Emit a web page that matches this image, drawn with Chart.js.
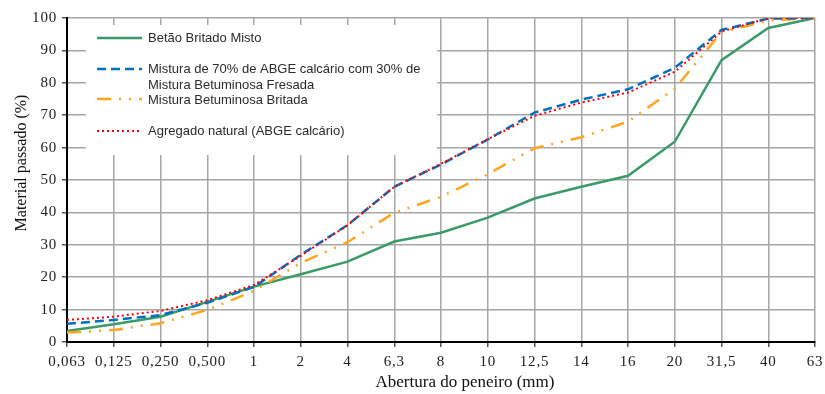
<!DOCTYPE html>
<html>
<head>
<meta charset="utf-8">
<script src="https://cdn.jsdelivr.net/npm/chart.js@4/dist/chart.umd.min.js"></script>
<style>
  html, body { margin: 0; padding: 0; background: #fff; }
  #wrap { width: 825px; height: 394px; }
</style>
</head>
<body>
<div id="wrap"><canvas id="chartPeneiros" width="825" height="394"></canvas></div>
<script>
// Aberturas dos peneiros (mm)
const peneiros = ['0,063', '0,125', '0,250', '0,500', '1', '2', '4', '6,3', '8', '10', '12,5', '14', '16', '20', '31,5', '40', '63'];

// Material passado (%)
const betaoBritadoMisto = [3.4, 5.5, 7.8, 12.4, 17.1, 20.9, 24.8, 31.0, 33.7, 38.4, 44.3, 47.9, 51.3, 61.8, 87.0, 96.9, 100];
const misturaAbgeFresada = [5.6, 6.8, 8.3, 12.1, 17.0, 26.9, 36.1, 47.9, 54.8, 62.5, 70.8, 74.8, 78.0, 84.6, 96.3, 99.8, 100];
const misturaBritada = [2.9, 3.7, 5.8, 9.9, 15.8, 24.4, 30.8, 39.9, 44.8, 51.8, 59.8, 63.2, 68.0, 78.2, 95.6, 99.2, 100];
const agregadoNatural = [6.8, 7.8, 9.6, 12.9, 17.6, 26.6, 36.0, 47.9, 55.0, 62.6, 69.8, 73.9, 77.0, 83.4, 95.8, 100, 100];

const yTicks = [0, 10, 20, 30, 40, 50, 60, 70, 80, 90, 100];

const series = [
  { label: 'Betão Britado Misto', data: betaoBritadoMisto, cor: '#3a9a68', dash: [], largura: 2.5, ordem: 4 },
  { label: ['Mistura de 70% de ABGE calcário com 30% de', 'Mistura Betuminosa Fresada'], data: misturaAbgeFresada, cor: '#0070c0', dash: [9, 5], largura: 2.5, ordem: 2 },
  { label: 'Mistura Betuminosa Britada', data: misturaBritada, cor: '#ffa51f', dash: [14, 8, 2, 8, 2, 8], largura: 2.5, ordem: 3 },
  { label: 'Agregado natural (ABGE calcário)', data: agregadoNatural, cor: '#ff0000', dash: [2, 3], largura: 2, ordem: 1 }
];

// Legenda e títulos dos eixos desenhados à mão
const legendaPlugin = {
  id: 'legendaCaixa',
  beforeDraw(chart) {
    // os números dos eixos vêm um pouco espaçados no original
    chart.ctx.letterSpacing = '0.8px';
  },
  beforeDatasetsDraw(chart) {
    const ctx = chart.ctx;
    ctx.save();
    ctx.letterSpacing = '0px';
    ctx.fillStyle = '#fff';
    ctx.fillRect(86, 25, 351, 130);

    const linhas = [
      { y: 38, textos: [38] },
      { y: 69, textos: [69, 85] },
      { y: 99, textos: [100] },
      { y: 131, textos: [131] }
    ];
    ctx.font = '13px "Liberation Sans", Arial, sans-serif';
    ctx.textBaseline = 'middle';
    ctx.textAlign = 'left';
    series.forEach((s, i) => {
      const l = linhas[i];
      ctx.strokeStyle = s.cor;
      ctx.lineWidth = s.largura;
      ctx.setLineDash(s.dash);
      ctx.beginPath();
      ctx.moveTo(97, l.y);
      ctx.lineTo(142, l.y);
      ctx.stroke();
      ctx.setLineDash([]);
      ctx.fillStyle = '#2b2b2b';
      const textos = Array.isArray(s.label) ? s.label : [s.label];
      textos.forEach((t, k) => ctx.fillText(t, 148, l.textos[k]));
    });

    // títulos
    ctx.fillStyle = '#111';
    ctx.font = '17px "Liberation Serif", "Times New Roman", serif';
    ctx.textAlign = 'center';
    ctx.fillText('Abertura do peneiro (mm)', 465, 383);
    ctx.font = '16px "Liberation Serif", "Times New Roman", serif';
    ctx.translate(22, 163);
    ctx.rotate(-Math.PI / 2);
    ctx.fillText('Material passado (%)', 0, 0);
    ctx.restore();
    ctx.letterSpacing = '0px';
  }
};

new Chart(document.getElementById('chartPeneiros'), {
  type: 'line',
  data: {
    labels: peneiros,
    datasets: series.map(s => ({
      label: Array.isArray(s.label) ? s.label.join(' ') : s.label,
      data: s.data,
      borderColor: s.cor,
      borderWidth: s.largura,
      borderDash: s.dash,
      pointRadius: 0,
      tension: 0,
      fill: false,
      order: s.ordem
    }))
  },
  options: {
    responsive: false,
    animation: false,
    devicePixelRatio: 1,
    layout: { padding: { top: 18, right: 10, left: 0, bottom: 0 } },
    plugins: {
      legend: { display: false },
      tooltip: { enabled: false },
      title: { display: false }
    },
    scales: {
      x: {
        type: 'category',
        offset: false,
        grid: { color: '#a6a6a6', lineWidth: 1.5, tickColor: '#555', tickLength: 5 },
        border: { color: '#000', width: 2 },
        ticks: {
          color: '#222',
          font: { family: '"Liberation Serif", "Times New Roman", serif', size: 15 },
          maxRotation: 0,
          autoSkip: false,
          padding: 6
        },
        afterFit(scale) {
          scale.height = 52;
          scale.paddingLeft = 0;
          scale.paddingRight = 0;
        }
      },
      y: {
        min: 0,
        max: 100,
        afterBuildTicks(scale) { scale.ticks = yTicks.map(v => ({ value: v })); },
        grid: { color: '#a6a6a6', lineWidth: 1.5, tickColor: '#555', tickLength: 5 },
        border: { color: '#000', width: 2 },
        ticks: {
          color: '#222',
          font: { family: '"Liberation Serif", "Times New Roman", serif', size: 15 },
          padding: 5
        },
        afterFit(scale) {
          scale.width = 67;
          scale.paddingTop = 0;
          scale.paddingBottom = 0;
        }
      }
    }
  },
  plugins: [legendaPlugin]
});
</script>
</body>
</html>
